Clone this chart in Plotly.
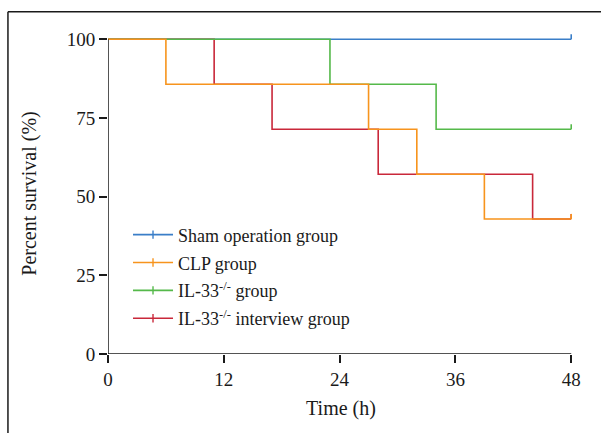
import plotly.graph_objects as go

# ---- data ----
group_names = ["Sham operation group", "CLP group",
               "IL-33<sup>-/-</sup> group", "IL-33<sup>-/-</sup> interview group"]
sham_time = [0, 48]
sham_surv = [100, 100]
clp_time = [0, 6, 27, 32, 39, 48]
clp_surv = [100, 85.7, 71.4, 57.1, 42.9, 42.9]
il33_time = [0, 23, 34, 48]
il33_surv = [100, 85.7, 71.4, 71.4]
inter_time = [0, 11, 17, 28, 44, 48]
inter_surv = [100, 85.7, 71.4, 57.1, 42.9, 42.9]
x_ticks = [0, 12, 24, 36, 48]
y_ticks = [0, 25, 50, 75, 100]

colors = ["#3a7ec8", "#f7941d", "#55b94a", "#c9283a"]
series = [(sham_time, sham_surv), (clp_time, clp_surv),
          (il33_time, il33_surv), (inter_time, inter_surv)]
draw_order = [0, 3, 2, 1]
CENSOR_H = 1.6  # tick height in data units
AX = "#1a1a1a"

X_MAX, Y_MAX = x_ticks[-1], y_ticks[-1]
X_RANGE = [0, X_MAX * 1.006]
Y_RANGE = [0, Y_MAX * 1.02]

# pixel layout of the plotting area
PX_L, PX_R0 = 108, 571      # x=0 and x=48
PX_B, PX_T0 = 354, 39.5     # y=0 and y=100
plot_w = (PX_R0 - PX_L) * X_RANGE[1] / X_MAX
plot_h = (PX_B - PX_T0) * Y_RANGE[1] / Y_MAX
W, H = 601, 433
m_l, m_b = PX_L, H - PX_B
m_r = W - PX_L - plot_w
m_t = PX_B - plot_h

def px2paper_x(px):
    return (px - PX_L) / plot_w

def px2paper_y(py):
    return (PX_B - py) / plot_h

fig = go.Figure()
for i in draw_order:
    t, s = series[i]
    fig.add_trace(go.Scatter(
        x=t, y=s, mode="lines", line=dict(color=colors[i], width=1.6, shape="hv"),
        showlegend=False, hoverinfo="skip"))
    fig.add_trace(go.Scatter(
        x=[t[-1], t[-1]], y=[s[-1], s[-1] + CENSOR_H], mode="lines",
        line=dict(color=colors[i], width=1.6), showlegend=False, hoverinfo="skip"))

for i, name in enumerate(group_names):
    fig.add_trace(go.Scatter(
        x=[None], y=[None], mode="lines+markers", name=name,
        line=dict(color=colors[i], width=1.6),
        marker=dict(symbol="line-ns", size=6, line=dict(color=colors[i], width=1.4)),
        legendgroup=f"g{i}", legendrank=i + 1))

axis_common = dict(showline=False, ticks="outside", ticklen=8, tickwidth=1.5,
                   tickcolor=AX, showgrid=False, zeroline=False,
                   tickfont=dict(family="Liberation Serif", size=19, color=AX))

fig.update_layout(
    width=W, height=H,
    margin=dict(l=m_l, r=m_r, t=m_t, b=m_b),
    paper_bgcolor="white", plot_bgcolor="white",
    font=dict(family="Liberation Serif", color=AX),
    xaxis=dict(range=X_RANGE, tickvals=x_ticks,
               title=dict(text="Time (h)", font=dict(size=20), standoff=12),
               **axis_common),
    yaxis=dict(range=Y_RANGE, tickvals=y_ticks,
               title=dict(text="Percent survival (%)", font=dict(size=20), standoff=24),
               **axis_common),
    legend=dict(x=px2paper_x(128), y=px2paper_y(216.5), xanchor="left", yanchor="top",
                font=dict(family="Liberation Serif", size=18, color=AX),
                bgcolor="rgba(0,0,0,0)", tracegroupgap=1.5, traceorder="grouped",
                itemwidth=40),
    shapes=[
        # axis lines (from 0 to the last tick)
        dict(type="line", xref="x", yref="y", x0=0, x1=0, y0=0, y1=Y_MAX,
             line=dict(color=AX, width=1.5)),
        dict(type="line", xref="x", yref="y", x0=0, x1=X_MAX, y0=0, y1=0,
             line=dict(color=AX, width=1.5)),
        # outer frame (left and top edges)
        dict(type="line", xref="paper", yref="paper",
             x0=px2paper_x(8), x1=px2paper_x(8), y0=px2paper_y(12), y1=px2paper_y(450),
             line=dict(color=AX, width=1.5)),
        dict(type="line", xref="paper", yref="paper",
             x0=px2paper_x(8), x1=px2paper_x(620), y0=px2paper_y(12), y1=px2paper_y(12),
             line=dict(color=AX, width=1.5)),
    ],
)

fig.write_html("out.html")
